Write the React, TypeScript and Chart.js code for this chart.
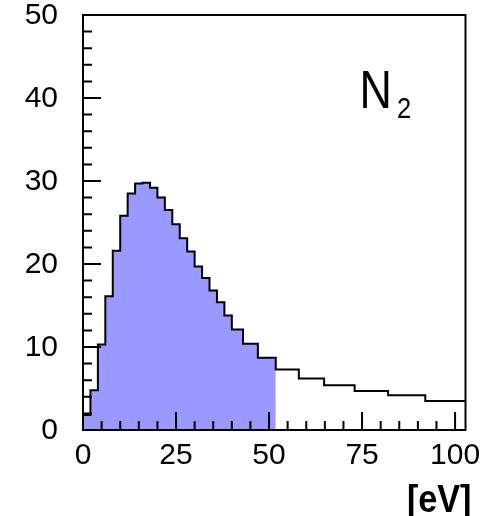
import React, { useEffect, useRef } from "react";
import { Chart, registerables } from "chart.js";

Chart.register(...registerables);

// ---- data ----
const binEdges = [
  0, 2, 4, 6, 8, 10, 12, 14, 16, 18, 20, 22, 24, 26, 28, 30, 32, 34, 36, 38, 40,
  43, 47, 51.8, 58, 64.8, 73, 82, 92, 102.8,
];
const counts = [
  1.8, 4.8, 10.3, 16.1, 21.6, 25.8, 28.5, 29.7, 29.8, 29.2, 28.0, 26.5, 24.8,
  23.1, 21.5, 19.7, 18.3, 16.8, 15.4, 13.8, 12.1, 10.4, 8.7, 7.3, 6.2, 5.4, 4.7,
  4.2, 3.5,
];
const shadedUpTo = 51.8;
const xRange = [0, 102.8];
const yRange = [0, 50];
const xTickLabels = [0, 25, 50, 75, 100];
const yTickLabels = [0, 10, 20, 30, 40, 50];
const xMinorStep = 5;
const yMinorStep = 2;
const gasLabel = "N";
const gasSubscript = "2";
const unitLabel = "[eV]";

const FONT = "'Liberation Sans', Arial, Helvetica, sans-serif";

function buildLine() {
  const pts: { x: number; y: number }[] = [{ x: binEdges[0], y: 0 }];
  counts.forEach((c, i) => pts.push({ x: binEdges[i], y: c }));
  pts.push({ x: binEdges[binEdges.length - 1], y: counts[counts.length - 1] });
  return pts;
}

function buildShaded() {
  const pts: { x: number; y: number }[] = [];
  let last = 0;
  counts.forEach((c, i) => {
    if (binEdges[i] < shadedUpTo - 1e-9) {
      pts.push({ x: binEdges[i], y: c });
      last = c;
    }
  });
  pts.push({ x: shadedUpTo, y: last });
  return pts;
}

const framePlugin = {
  id: "frameTicks",
  afterDatasetsDraw(chart: any) {
    const { ctx, chartArea: a, scales } = chart;
    ctx.save();
    ctx.strokeStyle = "#000";
    ctx.lineWidth = 2;
    ctx.beginPath();
    for (let i = 0; i * yMinorStep <= yRange[1] + 1e-9; i++) {
      const v = i * yMinorStep;
      const p = scales.y.getPixelForValue(v);
      const len = yTickLabels.includes(v) ? 18 : 9;
      ctx.moveTo(a.left, p);
      ctx.lineTo(a.left + len, p);
    }
    for (let i = 0; i * xMinorStep <= 100 + 1e-9; i++) {
      const v = i * xMinorStep;
      const p = scales.x.getPixelForValue(v);
      const len = xTickLabels.includes(v) ? 18 : 9;
      ctx.moveTo(p, a.bottom);
      ctx.lineTo(p, a.bottom - len);
    }
    ctx.stroke();
    ctx.strokeRect(a.left, a.top, a.right - a.left, a.bottom - a.top);
    ctx.restore();
  },
  afterDraw(chart: any) {
    const { ctx, scales } = chart;
    ctx.save();
    ctx.fillStyle = "#000";
    ctx.textBaseline = "alphabetic";
    // N2 label
    const nx = scales.x.getPixelForValue(74.3);
    const ny = scales.y.getPixelForValue(38.8);
    ctx.save();
    ctx.translate(nx, ny);
    ctx.scale(0.83, 1);
    ctx.font = `54px ${FONT}`;
    ctx.textAlign = "left";
    ctx.fillText(gasLabel, 0, 0);
    ctx.restore();
    ctx.save();
    ctx.translate(nx + 37.5, ny + 10);
    ctx.scale(0.85, 1);
    ctx.font = `30px ${FONT}`;
    ctx.fillText(gasSubscript, 0, 0);
    ctx.restore();
    // unit label
    ctx.save();
    ctx.translate(471.5, 511.5);
    ctx.scale(0.9, 1);
    ctx.font = `bold 38px ${FONT}`;
    ctx.textAlign = "right";
    ctx.fillText(unitLabel, 0, 0);
    ctx.restore();
    ctx.restore();
  },
};

export default function App() {
  const ref = useRef<HTMLCanvasElement | null>(null);
  useEffect(() => {
    if (!ref.current) return;
    const chart = new Chart(ref.current, {
      type: "line",
      data: {
        datasets: [
          {
            data: buildLine(),
            stepped: "before",
            borderColor: "#000",
            borderWidth: 2,
            pointRadius: 0,
            fill: false,
            order: 0,
          } as any,
          {
            data: buildShaded(),
            stepped: "before",
            borderWidth: 0,
            borderColor: "rgba(0,0,0,0)",
            backgroundColor: "#9999ff",
            pointRadius: 0,
            fill: "origin",
            order: 1,
          } as any,
        ],
      },
      options: {
        responsive: false,
        animation: false,
        parsing: false,
        layout: { padding: { top: 15, right: 28.5, left: 0, bottom: 0 } },
        plugins: {
          legend: { display: false },
          tooltip: { enabled: false },
        },
        scales: {
          x: {
            type: "linear",
            min: xRange[0],
            max: xRange[1],
            grid: { display: false, drawTicks: false },
            border: { display: false },
            ticks: {
              stepSize: xMinorStep,
              includeBounds: false,
              autoSkip: false,
              maxRotation: 0,
              padding: 11,
              color: "#000",
              font: { family: FONT, size: 30, lineHeight: 1 },
              callback: (v: any) =>
                xTickLabels.includes(Number(v)) ? String(v) : "",
            },
            afterFit: (s: any) => {
              s.height = 86;
              s.paddingLeft = 0;
              s.paddingRight = 0;
            },
          },
          y: {
            type: "linear",
            min: yRange[0],
            max: yRange[1],
            grid: { display: false, drawTicks: false },
            border: { display: false },
            ticks: {
              stepSize: yMinorStep,
              includeBounds: false,
              autoSkip: false,
              padding: 25,
              labelOffset: 1,
              color: "#000",
              font: { family: FONT, size: 30, lineHeight: 1 },
              callback: (v: any) =>
                yTickLabels.includes(Number(v)) ? String(v) : "",
            },
            afterFit: (s: any) => {
              s.width = 83;
              s.paddingTop = 0;
              s.paddingBottom = 0;
            },
          },
        },
      } as any,
      plugins: [framePlugin],
    });
    return () => chart.destroy();
  }, []);
  return (
    <div style={{ position: "absolute", left: 0, top: 0, width: 494, height: 516, background: "#fff" }}>
      <canvas ref={ref} width={494} height={516} style={{ display: "block" }} />
    </div>
  );
}
